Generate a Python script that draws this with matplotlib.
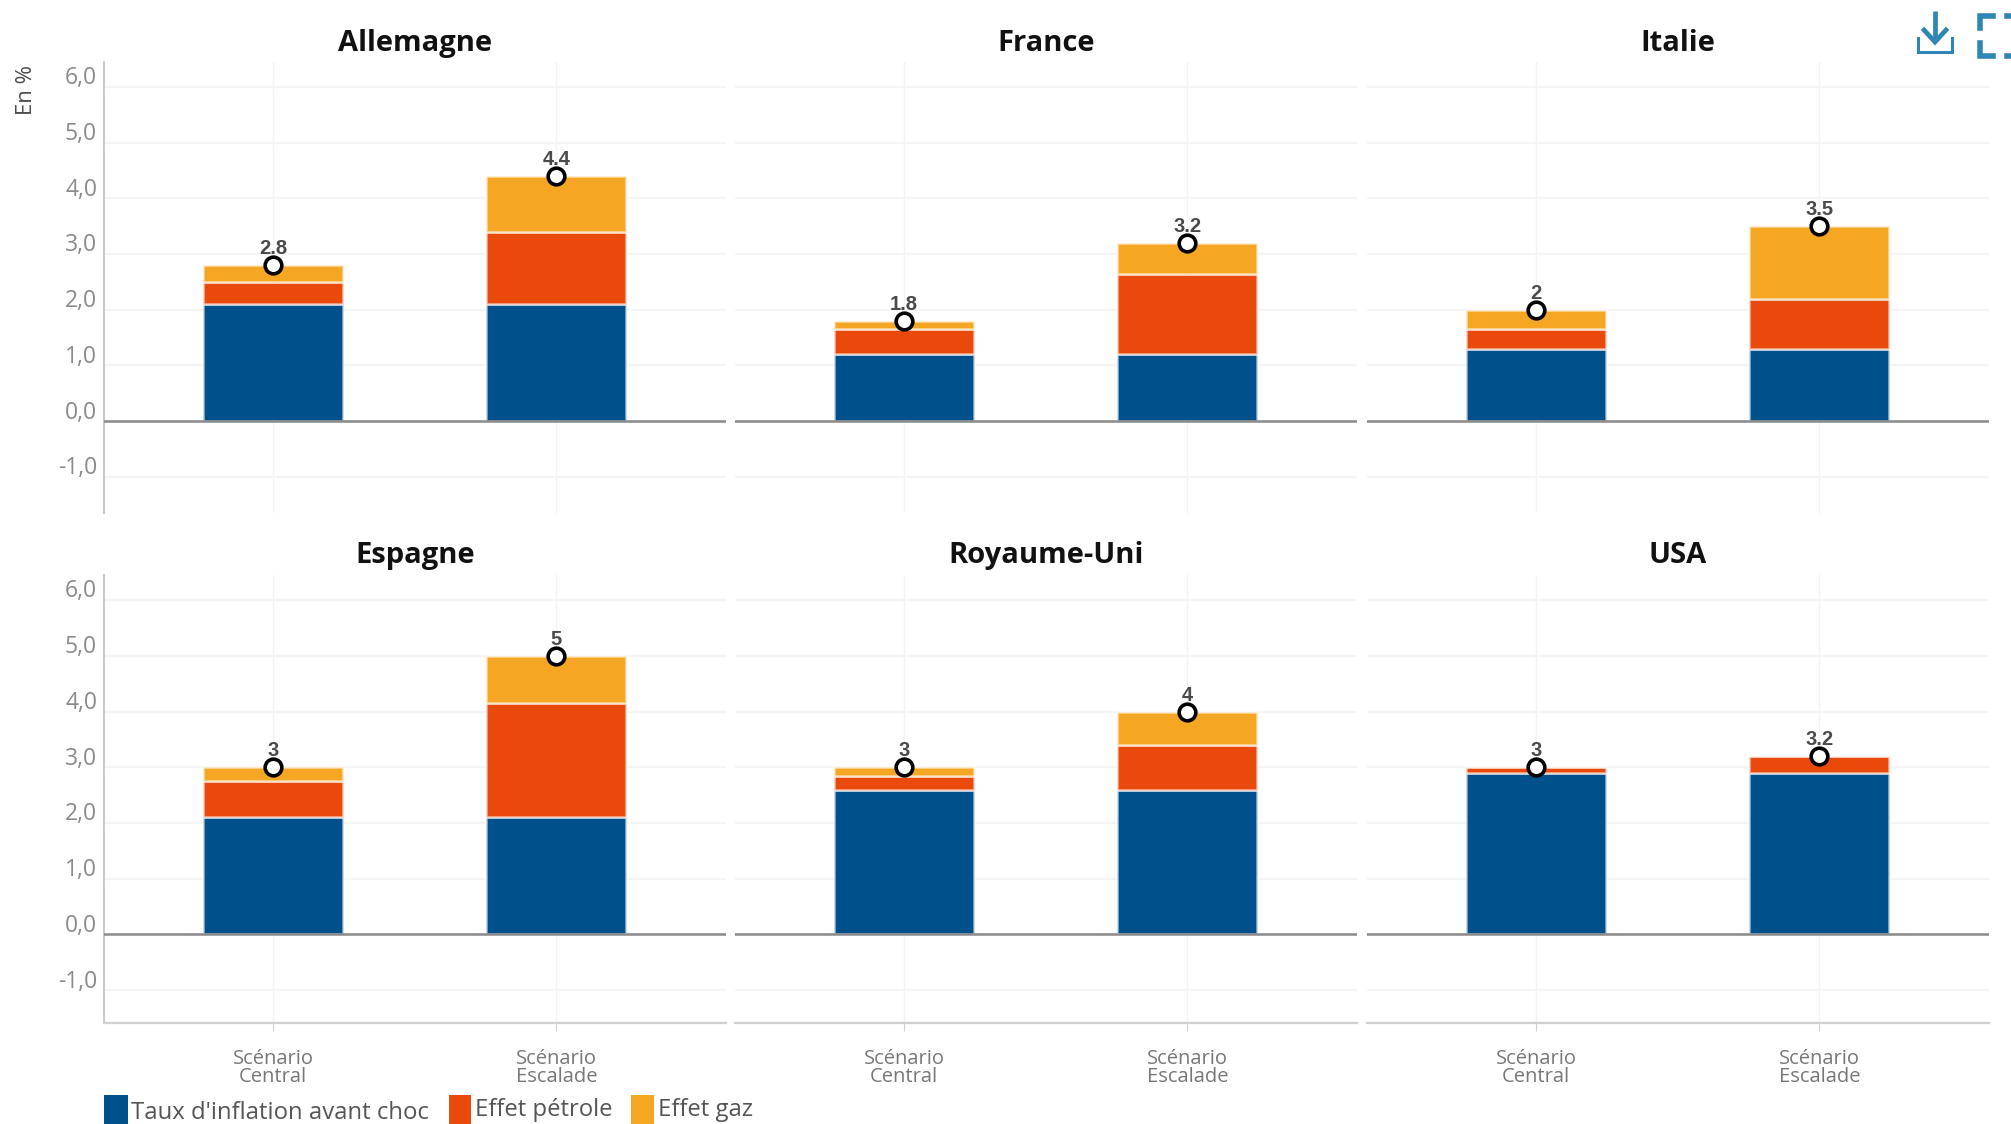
#!/usr/bin/env python
# Inflation scenarios by country: stacked contributions with the total on top.

import matplotlib as mpl
mpl.use("Agg")
import matplotlib.pyplot as plt
from matplotlib.patches import Rectangle
from matplotlib.transforms import ScaledTranslation

countries = ["Allemagne", "France", "Italie", "Espagne", "Royaume-Uni", "USA"]
scenarios = ["Scénario\nCentral", "Scénario\nEscalade"]

base = [[2.1, 2.1], [1.2, 1.2], [1.3, 1.3], [2.1, 2.1], [2.6, 2.6], [2.9, 2.9]]
oil = [[0.4, 1.3], [0.45, 1.45], [0.35, 0.9], [0.65, 2.05], [0.25, 0.8], [0.1, 0.3]]
gas = [[0.3, 1.0], [0.15, 0.55], [0.35, 1.3], [0.25, 0.85], [0.15, 0.6], [0.0, 0.0]]
totals = [[2.8, 4.4], [1.8, 3.2], [2, 3.5], [3, 5], [3, 4], [3, 3.2]]

yticks = [-1, 0, 1, 2, 3, 4, 5, 6]
ytick_labels = ["-1,0", "0,0", "1,0", "2,0", "3,0", "4,0", "5,0", "6,0"]

series_names = ["Taux d'inflation avant choc", "Effet pétrole", "Effet gaz"]
BLUE, RED, GOLD = "#00508c", "#e9490b", "#f5a623"
SEP = (1, 1, 1, 0.6)

W, H = 2011, 1124
plt.rcParams["font.family"] = ["Open Sans", "DejaVu Sans"]

fig = plt.figure(figsize=(W/100, H/100), dpi=100, facecolor="white")

lefts = [104, 735, 1367]
tops = [62, 575]
heights = [451, 448]
ymins = [-1.65, -1.59]
title_y = [51, 563]
pw = 622

for n, country in enumerate(countries):
    row, col = divmod(n, 3)
    ax = fig.add_axes([lefts[col]/W, 1 - (tops[row] + heights[row])/H, pw/W, heights[row]/H])

    x = [0, 1]
    ax.bar(x, base[n], width=0.495, color=BLUE, edgecolor=SEP, linewidth=1.8, zorder=3)
    ax.bar(x, oil[n], width=0.495, bottom=base[n], color=RED, edgecolor=SEP, linewidth=1.8, zorder=3)
    stacked = [b + o for b, o in zip(base[n], oil[n])]
    ax.bar(x, gas[n], width=0.495, bottom=stacked, color=GOLD, edgecolor=SEP, linewidth=1.8, zorder=3)

    ax.plot(x, totals[n], "o", ms=12, mfc="white", mec="black", mew=2.6, zorder=5)
    for xi, total in zip(x, totals[n]):
        ax.annotate(str(total), (xi, total), xytext=(0, 5), textcoords="offset points",
                    ha="center", va="bottom", fontsize=14.5, fontweight="bold",
                    family="Liberation Sans", color="#4a4a4a", zorder=6)

    ax.set_xlim(-0.597, 1.599)
    ax.set_ylim(ymins[row], 6.45)
    ax.axhline(0, color="#8a8a8a", lw=1.8, zorder=4)
    ax.grid(True, axis="y", color="#f5f5f5", lw=1.6, zorder=0)
    ax.grid(True, axis="x", color="#f3f3f3", lw=1.0, zorder=0)
    ax.set_axisbelow(True)
    ax.set_yticks(yticks)
    ax.set_xticks(x)

    for side in ["top", "right"]:
        ax.spines[side].set_visible(False)
    ax.spines["left"].set_visible(col == 0)
    ax.spines["left"].set_color("#c8c8c8")
    ax.spines["left"].set_linewidth(1.4)
    ax.spines["bottom"].set_visible(row == 1)
    ax.spines["bottom"].set_color("#d0d0d0")
    ax.spines["bottom"].set_linewidth(1.6)

    if col == 0:
        ax.set_yticklabels(ytick_labels, fontsize=16.5, color="#8a8a8a", va="center")
        ax.tick_params(axis="y", length=0, pad=5)
        # tick labels sit above their grid line
        lift = ScaledTranslation(0, 6.2/72, fig.dpi_scale_trans)
        for label in ax.get_yticklabels():
            label.set_transform(label.get_transform() + lift)
    else:
        ax.tick_params(axis="y", length=0, labelleft=False)
    if row == 1:
        ax.set_xticklabels(scenarios, fontsize=14.5, color="#777777", linespacing=0.9)
        ax.tick_params(axis="x", length=6, color="#d0d0d0", pad=12.5)
    else:
        ax.tick_params(axis="x", length=0, labelbottom=False)

    fig.text((lefts[col] + pw/2)/W, 1 - title_y[row]/H, country, ha="center", va="baseline",
             fontsize=21, fontweight="bold", color="#111111")

fig.text(27/W, 1 - 90/H, "En %", rotation=90, ha="center", va="center", fontsize=16, color="#4a4a4a")

# Overlay in pixel coordinates for the legend and the toolbar icons
over = fig.add_axes([0, 0, 1, 1], facecolor="none")
over.set_xlim(0, W)
over.set_ylim(H, 0)
over.axis("off")

legend_boxes = [(104, 24), (449, 22), (631, 23)]
legend_text = [(131, 1113), (475, 1110), (658, 1110)]
for (lx, lw), (tx, ty), color, name in zip(legend_boxes, legend_text, [BLUE, RED, GOLD], series_names):
    over.add_patch(Rectangle((lx, 1095), lw, 29, color=color, lw=0))
    over.text(tx, ty, name, ha="left", va="center", fontsize=17.2, color="#555555")

ICON = "#2e86b5"
over.plot([1935, 1935], [11, 41], color=ICON, lw=3.4, solid_capstyle="butt")
over.plot([1924, 1935, 1946], [30, 42, 30], color=ICON, lw=3.4, solid_joinstyle="miter")
over.plot([1918, 1918, 1952, 1952], [38, 52, 52, 38], color=ICON, lw=2.2, solid_joinstyle="miter")
over.plot([1980, 1980, 1993], [28, 16, 16], color=ICON, lw=4, solid_joinstyle="miter")
over.plot([1980, 1980, 1993], [43, 56, 56], color=ICON, lw=4, solid_joinstyle="miter")
over.plot([2011, 2007], [16, 16], color=ICON, lw=4)
over.plot([2011, 2007], [56, 56], color=ICON, lw=4)

fig.savefig("out.png", dpi=100)
